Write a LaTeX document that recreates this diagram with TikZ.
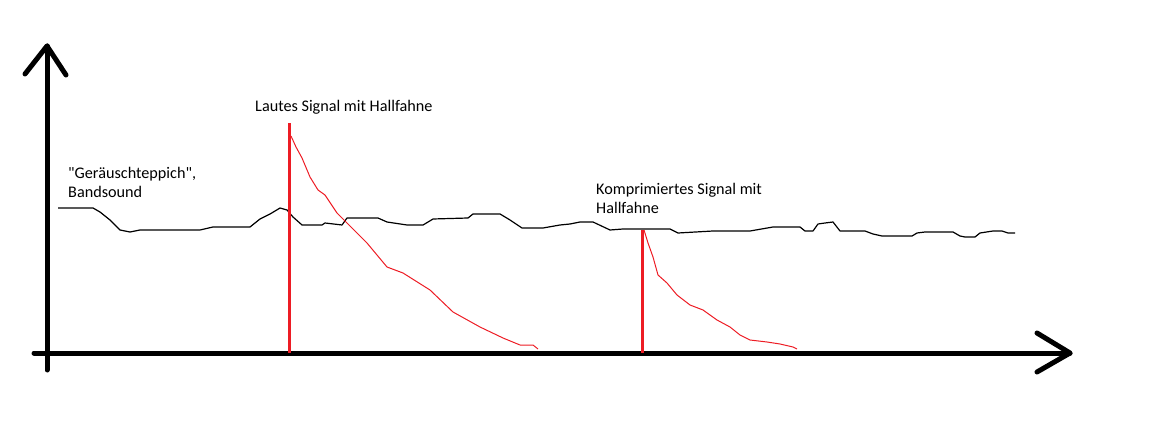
\documentclass[tikz,border=0pt]{standalone}
\usepackage{fontspec}
\setmainfont{Carlito}[Ligatures=TeXOff]
\definecolor{paintred}{HTML}{ED1C24}
\begin{document}
\begin{tikzpicture}[x=1pt,y=-1pt,
  axis/.style={line width=5pt,black,line cap=round,line join=round},
  pulse/.style={line width=3pt,paintred},
  tail/.style={line width=1pt,paintred,line join=round},
  noise/.style={line width=1.2pt,black,line join=round},
  lbl/.style={inner sep=0pt,anchor=west,font=\fontsize{16.2}{19}\selectfont,align=left}]
\useasboundingbox (0,0) rectangle (1167,446);
% axes
\coordinate (ybot) at (47,370);
\coordinate (ytop) at (47,46);
\coordinate (yl) at (25,74);
\coordinate (yr) at (66,75);
\coordinate (xleft) at (34,353);
\coordinate (xtip) at (1070,353);
\coordinate (xu) at (1037,333);
\coordinate (xd) at (1037,372);
\draw[axis] (ybot) -- (ytop);
\draw[axis] (yl) -- (ytop) -- (yr);
\draw[axis] (xleft) -- (xtip);
\draw[axis] (xu) -- (xtip) -- (xd);
% noise floor
\draw[noise] (58,208) -- (93,208) -- (100,212) -- (110,220) -- (120,230) -- (130,232) -- (140,230)
 -- (200,230) -- (213,227) -- (250,227) -- (260,219) -- (270,214) -- (280,208) -- (287,210) -- (293,217)
 -- (302,225) -- (322,225) -- (325,223) -- (342,225) -- (347,218) -- (378,218) -- (387,222)
 -- (407,225) -- (423,225) -- (433,219) -- (468,218) -- (473,214) -- (500,214) -- (510,220)
 -- (522,228) -- (543,228) -- (560,225) -- (570,224) -- (580,222) -- (593,222) -- (610,230)
 -- (623,229) -- (670,229) -- (678,233) -- (713,231) -- (750,231) -- (773,227) -- (800,227)
 -- (805,231) -- (813,231) -- (818,224) -- (825,223) -- (833,222) -- (840,231) -- (865,231)
 -- (873,234) -- (882,236) -- (912,236) -- (917,233) -- (925,232) -- (953,232) -- (960,236)
 -- (965,237) -- (975,237) -- (980,233) -- (993,231) -- (1002,231) -- (1008,233) -- (1015,233);
% loud signal
\coordinate (p1b) at (289,353);
\coordinate (p1t) at (289,123);
\draw[pulse] (p1b) -- (p1t);
\draw[tail] (291,136) -- (296,147) -- (302,158) -- (310,177) -- (318,190) -- (325,195) -- (337,213)
 -- (347,223) -- (367,243) -- (387,267) -- (403,273) -- (430,290) -- (453,312) -- (480,327)
 -- (503,338) -- (520,345) -- (533,345) -- (538,349);
% compressed signal
\coordinate (p2b) at (642,353);
\coordinate (p2t) at (642,230);
\draw[pulse] (p2b) -- (p2t);
\draw[tail] (644,230) -- (648,243) -- (653,257) -- (658,275) -- (667,283) -- (677,295) -- (690,305)
 -- (703,310) -- (717,320) -- (730,327) -- (740,335) -- (750,340) -- (767,342) -- (780,344)
 -- (793,347) -- (797,349);
% labels
\node[lbl] (tnoise) at (68,182) {"Geräuschteppich",\\Bandsound};
\node[lbl] (tloud) at (255,107) {Lautes Signal mit Hallfahne};
\node[lbl] (tcomp) at (596,198) {Komprimiertes Signal mit\\Hallfahne};
\end{tikzpicture}
\end{document}
